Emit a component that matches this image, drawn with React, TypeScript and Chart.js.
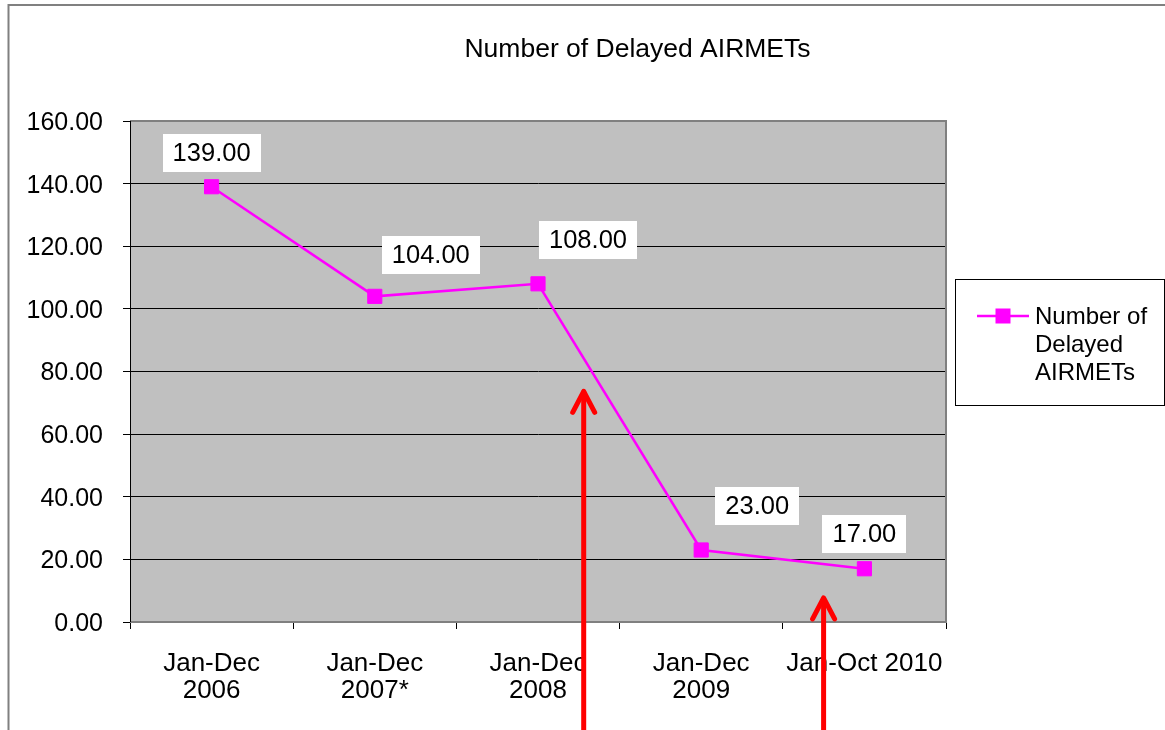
import React, { useEffect, useRef } from "react";
import { Chart, registerables } from "chart.js";

Chart.register(...registerables);

const categories: string[][] = [
  ["Jan-Dec", "2006"],
  ["Jan-Dec", "2007*"],
  ["Jan-Dec", "2008"],
  ["Jan-Dec", "2009"],
  ["Jan-Oct 2010"],
];
const seriesName = "Number of Delayed AIRMETs";
const delayedAirmets: number[] = [139, 104, 108, 23, 17];
const yMin = 0;
const yMax = 160;
const yStep = 20;

// annotation arrows in data space: x = category index (fractional), yTip = value at arrow tip
const arrowX: number[] = [2.28, 3.75];
const arrowTip: number[] = [74, 8];

// label offsets (px) relative to each point
const labelOffsets: number[][] = [
  [0, -34],
  [56, -41],
  [50, -44],
  [56, -44],
  [0, -35],
];

const FONT = "'Liberation Sans', Arial, sans-serif";
const MAGENTA = "#FF00FF";

const decorPlugin = {
  id: "decor",
  beforeDraw(chart: any) {
    const { ctx, chartArea: a } = chart;
    ctx.save();
    ctx.fillStyle = "#fff";
    ctx.fillRect(0, 0, chart.width, chart.height);
    // outer border
    ctx.strokeStyle = "#808080";
    ctx.lineWidth = 2;
    ctx.strokeRect(8.5, 5, 3000, 3000);
    // plot bg
    ctx.fillStyle = "#C0C0C0";
    ctx.fillRect(a.left, a.top, a.right - a.left, a.bottom - a.top);
    // title
    ctx.fillStyle = "#000";
    ctx.font = `26.5px ${FONT}`;
    ctx.textAlign = "center";
    ctx.textBaseline = "alphabetic";
    ctx.fillText(seriesName, 637.5, 57);
    ctx.restore();
  },
  beforeDatasetsDraw(chart: any) {
    const { ctx, chartArea: a } = chart;
    ctx.save();
    ctx.strokeStyle = "#808080";
    ctx.lineWidth = 2;
    ctx.beginPath();
    ctx.moveTo(a.left, a.top);
    ctx.lineTo(a.right, a.top);
    ctx.lineTo(a.right, a.bottom);
    ctx.lineTo(a.left, a.bottom);
    ctx.stroke();
    ctx.strokeStyle = "#000";
    ctx.lineWidth = 1;
    ctx.beginPath();
    ctx.moveTo(a.left + 0.5, a.top);
    ctx.lineTo(a.left + 0.5, a.bottom);
    ctx.stroke();
    ctx.restore();
  },
  afterDatasetsDraw(chart: any) {
    const { ctx } = chart;
    const meta = chart.getDatasetMeta(0);
    ctx.save();
    ctx.font = `25.5px ${FONT}`;
    ctx.textAlign = "center";
    ctx.textBaseline = "middle";
    meta.data.forEach((pt: any, i: number) => {
      const txt = delayedAirmets[i].toFixed(2);
      const w = ctx.measureText(txt).width + 20;
      const h = 38;
      const cx = pt.x + labelOffsets[i][0];
      const cy = pt.y + labelOffsets[i][1];
      ctx.fillStyle = "#fff";
      ctx.fillRect(Math.round(cx - w / 2), Math.round(cy - h / 2), Math.round(w), h);
      ctx.fillStyle = "#000";
      ctx.fillText(txt, cx, cy + 1);
    });
    ctx.restore();
  },
  afterDraw(chart: any) {
    const { ctx } = chart;
    const xs = chart.scales.x;
    const ys = chart.scales.y;
    ctx.save();
    // legend
    ctx.fillStyle = "#fff";
    ctx.fillRect(955.5, 279.5, 209, 126);
    ctx.strokeStyle = "#000";
    ctx.lineWidth = 1;
    ctx.strokeRect(955.5, 279.5, 209, 126);
    ctx.strokeStyle = MAGENTA;
    ctx.lineWidth = 2.5;
    ctx.beginPath();
    ctx.moveTo(977, 316);
    ctx.lineTo(1029, 316);
    ctx.stroke();
    ctx.fillStyle = MAGENTA;
    ctx.fillRect(995.5, 308.5, 15, 15);
    ctx.fillStyle = "#000";
    ctx.font = `24px ${FONT}`;
    ctx.textAlign = "left";
    ctx.textBaseline = "alphabetic";
    ["Number of", "Delayed", "AIRMETs"].forEach((t, i) => {
      ctx.fillText(t, 1035, 324 + i * 28);
    });
    // arrows
    ctx.strokeStyle = "#FF0000";
    ctx.lineWidth = 5;
    ctx.lineCap = "round";
    ctx.lineJoin = "round";
    arrowX.forEach((xv, i) => {
      const x = xs.getPixelForValue(xv);
      const y = ys.getPixelForValue(arrowTip[i]);
      ctx.beginPath();
      ctx.moveTo(x, chart.height + 10);
      ctx.lineTo(x, y + 2);
      ctx.stroke();
      ctx.beginPath();
      ctx.moveTo(x - 11, y + 22);
      ctx.lineTo(x, y + 1);
      ctx.lineTo(x + 11, y + 22);
      ctx.stroke();
    });
    ctx.restore();
  },
};

export default function App() {
  const ref = useRef<HTMLCanvasElement>(null);
  useEffect(() => {
    if (!ref.current) return;
    const chart = new Chart(ref.current, {
      type: "line",
      data: {
        labels: categories,
        datasets: [
          {
            label: seriesName,
            data: delayedAirmets,
            borderColor: MAGENTA,
            backgroundColor: MAGENTA,
            borderWidth: 2.5,
            pointStyle: "rect",
            pointRadius: 10,
            pointBorderWidth: 1,
            pointBorderColor: MAGENTA,
            pointBackgroundColor: MAGENTA,
            tension: 0,
          },
        ],
      },
      options: {
        animation: false,
        responsive: false,
        layout: { padding: { left: 0, top: 121, right: 219, bottom: 0 } },
        plugins: {
          legend: { display: false },
          title: { display: false },
          tooltip: { enabled: false },
        },
        scales: {
          x: {
            offset: true,
            grid: {
              offset: true,
              drawOnChartArea: false,
              color: "#000",
              tickLength: 7,
            },
            border: { display: false },
            ticks: {
              color: "#000",
              font: { family: FONT, size: 26, lineHeight: 1.05 },
              padding: 21,
              maxRotation: 0,
              autoSkip: false,
            },
            afterFit: (s: any) => {
              s.height = 108;
            },
          },
          y: {
            min: yMin,
            max: yMax,
            grid: { color: "#000", tickLength: 7, lineWidth: 1 },
            border: { display: true, color: "#000" },
            ticks: {
              stepSize: yStep,
              color: "#000",
              font: { family: FONT, size: 25 },
              padding: 20,
              labelOffset: 2,
              callback: (v: any) => Number(v).toFixed(2),
            },
            afterFit: (s: any) => {
              s.width = 130;
            },
          },
        },
      },
      plugins: [decorPlugin],
    });
    return () => chart.destroy();
  }, []);
  return (
    <div style={{ position: "fixed", left: 0, top: 0, width: 1165, height: 730 }}>
      <canvas ref={ref} width={1165} height={730} style={{ display: "block" }} />
    </div>
  );
}
